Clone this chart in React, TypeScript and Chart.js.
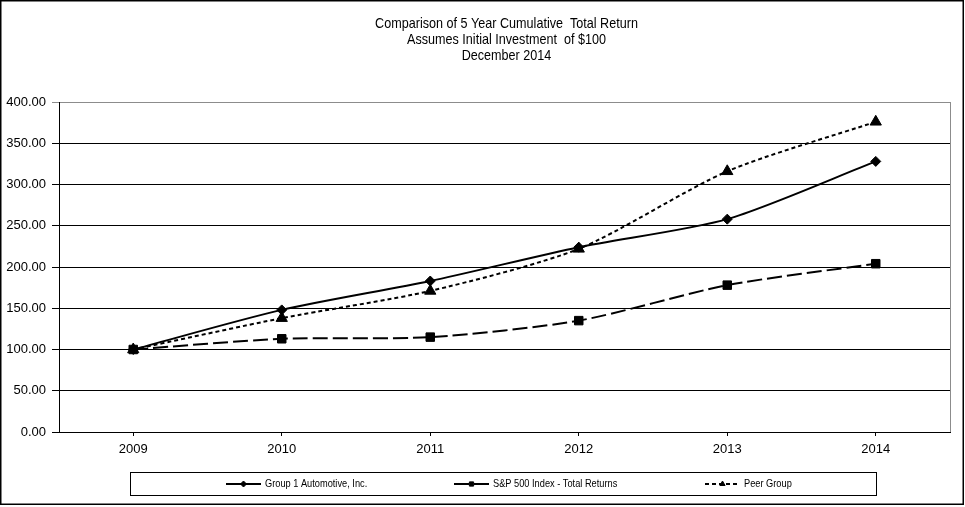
import React, { useEffect, useRef } from "react";
import { Chart, registerables, Plugin } from "chart.js";
import { drawPoint } from "chart.js/helpers";

Chart.register(...registerables);

const years = ["2009", "2010", "2011", "2012", "2013", "2014"];
const group1Values = [100, 148, 183, 224, 258, 328];
const sp500Values = [100, 113, 115, 135, 178, 204];
const peerValues = [100, 138, 171, 222, 316, 376];
const titleLines = [
  "Comparison of 5 Year Cumulative  Total Return",
  "Assumes Initial Investment  of $100",
  "December 2014",
];
const legendStarts = [226, 454, 705];

const REGULAR = "'Liberation Sans', Arial, sans-serif";

// text drawn in a squeezed sans, like the narrow face of the original
function narrowText(ctx: CanvasRenderingContext2D, text: string, x: number, y: number, size: number, align: CanvasTextAlign) {
  const squeeze = 0.84;
  ctx.save();
  ctx.translate(x, y);
  ctx.scale(squeeze, 1);
  ctx.font = `${size}px ${REGULAR}`;
  ctx.fillStyle = "#000";
  ctx.textAlign = align;
  ctx.textBaseline = "middle";
  ctx.fillText(text, 0, 0);
  ctx.restore();
}

const framePlugin: Plugin<"line"> = {
  id: "frame",
  beforeDatasetsDraw(chart) {
    const { ctx, chartArea } = chart;
    ctx.save();
    ctx.strokeStyle = "#8c8c8c";
    ctx.lineWidth = 1;
    ctx.beginPath();
    ctx.moveTo(chartArea.right + 0.5, chartArea.top);
    ctx.lineTo(chartArea.right + 0.5, chartArea.bottom);
    ctx.stroke();
    ctx.restore();
  },
  afterDraw(chart) {
    const { ctx, chartArea, width } = chart;
    ctx.save();
    // outer border
    ctx.strokeStyle = "#000";
    ctx.lineWidth = 1.5;
    ctx.strokeRect(0.75, 0.75, width - 2.5, 503.5);

    // title
    const cx = (chartArea.left + chartArea.right) / 2 + 2;
    titleLines.forEach((line, i) => narrowText(ctx, line, cx, 24 + i * 16, 15, "center"));

    // legend box
    ctx.lineWidth = 1;
    ctx.strokeRect(130.5, 472.5, 746, 23);
    const ly = 484;
    chart.data.datasets.forEach((ds: any, i) => {
      const x0 = legendStarts[i];
      ctx.save();
      ctx.strokeStyle = "#000";
      ctx.lineWidth = 2;
      ctx.setLineDash(ds.borderDash || []);
      ctx.beginPath();
      ctx.moveTo(x0, ly);
      ctx.lineTo(x0 + 35, ly);
      ctx.stroke();
      ctx.restore();
      ctx.fillStyle = "#000";
      ctx.strokeStyle = "#000";
      ctx.lineWidth = 1;
      drawPoint(ctx, { pointStyle: ds.pointStyle, radius: 3, rotation: 0, borderWidth: 1 }, x0 + 17.5, ly);
      narrowText(ctx, ds.label, x0 + 39, ly, 11, "left");
    });
    ctx.restore();
  },
};

const App: React.FC = () => {
  const canvasRef = useRef<HTMLCanvasElement | null>(null);
  const chartRef = useRef<Chart | null>(null);

  useEffect(() => {
    if (chartRef.current) chartRef.current.destroy();
    const ctx = canvasRef.current?.getContext("2d");
    if (!ctx) return;

    const common = {
      borderColor: "#000",
      backgroundColor: "#000",
      pointBackgroundColor: "#000",
      pointBorderColor: "#000",
      borderWidth: 2,
      tension: 0.25,
      pointBorderWidth: 1,
    };

    chartRef.current = new Chart(ctx, {
      type: "line",
      data: {
        labels: years,
        datasets: [
          { ...common, label: "Group 1 Automotive, Inc.", data: group1Values, pointStyle: "rectRot", pointRadius: 5 },
          { ...common, label: "S&P 500 Index - Total Returns", data: sp500Values, pointStyle: "rect", pointRadius: 6, borderDash: [15, 5] },
          { ...common, label: "Peer Group", data: peerValues, pointStyle: "triangle", pointRadius: 6.5, borderDash: [4, 3] },
        ],
      },
      options: {
        animation: false,
        responsive: true,
        maintainAspectRatio: false,
        layout: { padding: { top: 102, right: 15, bottom: 45, left: 0 } },
        plugins: {
          legend: { display: false },
          title: { display: false },
          tooltip: { enabled: false },
        },
        scales: {
          x: {
            offset: true,
            afterFit: (scale: any) => {
              scale.height = 30;
            },
            grid: {
              offset: false,
              drawOnChartArea: false,
              drawTicks: true,
              tickLength: 4,
              color: "#000",
            },
            border: { color: "#000", width: 1 },
            ticks: { color: "#000", font: { family: REGULAR, size: 13 }, padding: 6, maxRotation: 0 },
          },
          y: {
            min: 0,
            max: 400,
            afterFit: (scale: any) => {
              scale.width = 59;
            },
            grid: {
              color: (c: any) => (c.tick && c.tick.value === 400 ? "#8c8c8c" : "#000"),
              tickLength: 7,
              lineWidth: 1,
            },
            border: { color: "#000", width: 1 },
            ticks: {
              stepSize: 50,
              color: "#000",
              font: { family: REGULAR, size: 13 },
              padding: 6,
              callback: (v: any) => Number(v).toFixed(2),
            },
          },
        },
      },
      plugins: [framePlugin],
    });

    return () => {
      if (chartRef.current) chartRef.current.destroy();
      chartRef.current = null;
    };
  }, []);

  return (
    <div style={{ position: "absolute", left: 0, top: 0, width: 965, height: 507, background: "#fff" }}>
      <canvas ref={canvasRef}></canvas>
    </div>
  );
};

export default App;
